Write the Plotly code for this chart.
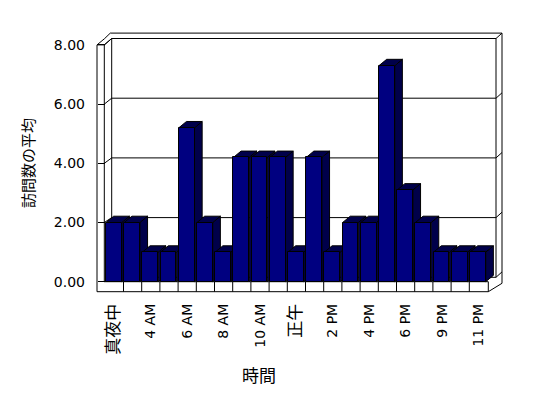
import plotly.graph_objects as go

# ---------------- data ----------------
CATEGORIES = ["真夜中", "2 AM", "4 AM", "5 AM", "6 AM", "7 AM", "8 AM", "9 AM",
              "10 AM", "11 AM", "正午", "1 PM", "2 PM", "3 PM", "4 PM", "5 PM",
              "6 PM", "8 PM", "9 PM", "10 PM", "11 PM"]
VALUES = [2.0, 2.0, 1.0, 1.0, 5.2, 2.0, 1.0, 4.2, 4.2, 4.2, 1.0,
          4.2, 1.0, 2.0, 2.0, 7.3, 3.1, 2.0, 1.0, 1.0, 1.0]
TICK_LABELS = ["真夜中", "4 AM", "6 AM", "8 AM", "10 AM", "正午",
               "2 PM", "4 PM", "6 PM", "9 PM", "11 PM"]
Y_TICKS = [0, 2, 4, 6, 8]
X_TITLE = "時間"
Y_TITLE = "訪問数の平均"

# ---------------- geometry / style ----------------
W, H = 548, 398
OFF = 8                            # page body margin of the html page
PL, PR, PT, PB = 90, 508, 28, 298  # plot area in screen pixels
X0_PX, XU = 114.4, 18.2            # pixel of category 0 centre, px per category
Y0_PX, YU = 281.7, 29.6            # pixel of value 0, px per unit
XR = [(PL - X0_PX) / XU, (PR - X0_PX) / XU]
YR = [(Y0_PX - PB) / YU, (Y0_PX - PT) / YU]

BAR_OFF, BAR_W = -0.46, 0.862
DX, DY = 0.42, 0.213               # 3-D depth offset of bar tops/sides
FRONT = "#000080"
SIDE = "#00004a"
FONT = "DejaVu Sans, Noto Sans CJK JP"


def px_x(p):
    return (p - X0_PX) / XU


def px_y(p):
    return (Y0_PX - p) / YU


def yb(v):                         # y pixel of value v on the back wall
    return 277.3 - 29.85 * v


# ---------------- 3-D faces from data ----------------
side_x, side_y, top_x, top_y = [], [], [], []
for i, v in enumerate(VALUES):
    l = i + BAR_OFF
    r = l + BAR_W
    side_x += [r, r + DX, r + DX, r, r, None]
    side_y += [0, DY, v + DY, v, 0, None]
    top_x += [l, l + DX, r + DX, r, l, None]
    top_y += [v, v + DY, v + DY, v, v, None]

fig = go.Figure()
fig.add_trace(go.Scatter(x=side_x, y=side_y, mode="lines", fill="toself",
                         fillcolor=SIDE, line=dict(color="black", width=1),
                         hoverinfo="skip", showlegend=False))
fig.add_trace(go.Scatter(x=top_x, y=top_y, mode="lines", fill="toself",
                         fillcolor=SIDE, line=dict(color="black", width=1),
                         hoverinfo="skip", showlegend=False))
fig.add_trace(go.Bar(x=CATEGORIES, y=VALUES, xaxis="x2", yaxis="y2",
                     width=BAR_W, offset=BAR_OFF,
                     marker=dict(color=FRONT, line=dict(color="black", width=1)),
                     showlegend=False))

# ---------------- frame (walls, floor, gridlines) ----------------
shapes = []


def seg(x0, y0, x1, y1):
    shapes.append(dict(type="line", xref="x", yref="y", layer="below",
                       x0=px_x(x0), y0=px_y(y0), x1=px_x(x1), y1=px_y(y1),
                       line=dict(color="black", width=1)))


FL, FI, BL, BR, SR, FR = 97, 104.3, 111.7, 496, 502, 488.3
top_f = Y0_PX - YU * 8
# left wall / back slab top
seg(FL, top_f, FI, top_f)
seg(FL, top_f, FI + 0.4, yb(8))
seg(FI, top_f, BL, yb(8))
seg(FI + 0.4, yb(8), FI + 6, yb(8) - 5.4)
seg(FI + 6, yb(8) - 5.4, SR, yb(8) - 5.4)
# verticals
seg(FL, top_f, FL, 291.7)
seg(FI, top_f, FI, Y0_PX)
seg(BL, yb(8), BL, yb(0))
seg(BR, yb(8), BR, yb(0))
seg(SR, yb(8) - 5.4, SR, yb(0) + 6)
# gridlines on left strip, back wall and right slab
for v in Y_TICKS:
    fy = Y0_PX - YU * v
    seg(FI, fy, BL, yb(v))
    seg(BL, yb(v), BR, yb(v))
    seg(BR, yb(v), SR, yb(v) - 5.4)
# floor
seg(FL, 291.7, FR, 291.7)
seg(FI, Y0_PX, FR, Y0_PX)
seg(FR, Y0_PX, FR, 291.7)
seg(FR, 291.7, SR, yb(0) + 6)
for i in range(len(CATEGORIES) - 1):
    shapes.append(dict(type="line", xref="x", yref="y", layer="below",
                       x0=i + 0.5, x1=i + 0.5, y0=0, y1=px_y(291.7),
                       line=dict(color="black", width=1)))


def label(t):
    if any(ord(c) > 0x2E80 for c in t):
        return '<span style="font-size:17px">' + t + '</span>'
    return t


fig.update_layout(
    width=W, height=H,
    margin=dict(l=PL - OFF, r=W + OFF - PR, t=PT - OFF, b=H + OFF - PB,
                autoexpand=False),
    paper_bgcolor="white", plot_bgcolor="white",
    font=dict(family=FONT, size=14, color="black"),
    shapes=shapes,
    bargap=0,
    xaxis=dict(range=XR, showgrid=False, zeroline=False, showline=False,
               automargin=False,
               tickmode="array",
               tickvals=[CATEGORIES.index(t) for t in TICK_LABELS],
               ticktext=[label(t) for t in TICK_LABELS],
               tickangle=-90, ticks="", ticklabelstandoff=2,
               tickfont=dict(family=FONT, size=14, color="black")),
    yaxis=dict(range=YR, showgrid=False, zeroline=False, showline=False,
               automargin=False,
               anchor="free", position=(FL - PL) / (PR - PL),
               tickmode="array", tickvals=Y_TICKS, tickformat=".2f",
               ticks="inside", ticklen=7, tickcolor="black",
               ticklabelstandoff=12,
               tickfont=dict(family=FONT, size=14, color="black"),
               title=dict(text=Y_TITLE, standoff=14,
                          font=dict(family=FONT, size=15, color="black"))),
    xaxis2=dict(overlaying="x", type="category", range=XR, visible=False),
    yaxis2=dict(overlaying="y", range=YR, visible=False),
    annotations=[dict(text=X_TITLE, xref="paper", yref="paper",
                      x=(259 - PL) / (PR - PL), y=(PB - 376) / (PB - PT),
                      xanchor="center", yanchor="middle",
                      showarrow=False,
                      font=dict(family=FONT, size=17, color="black"))],
)

fig.write_html("out.html")
